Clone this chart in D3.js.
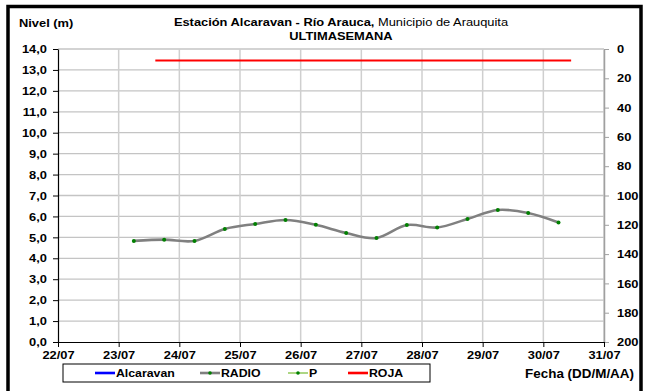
<!DOCTYPE html>
<html><head><meta charset="utf-8">
<script src="https://cdn.jsdelivr.net/npm/d3@7"></script>
<style>body{margin:0;background:#fff}svg{display:block}text{font-family:"Liberation Sans",Arial,sans-serif}</style>
</head><body><svg id="c" width="648" height="391"></svg>
<script>
// ---- data ----
const radioDates = ["2013-07-23T06:00","2013-07-23T18:00","2013-07-24T06:00","2013-07-24T18:00","2013-07-25T06:00","2013-07-25T18:00","2013-07-26T06:00","2013-07-26T18:00","2013-07-27T06:00","2013-07-27T18:00","2013-07-28T06:00","2013-07-28T18:00","2013-07-29T06:00","2013-07-29T18:00","2013-07-30T06:00"];
const radioValues = [4.83,4.89,4.83,5.40,5.64,5.83,5.60,5.21,4.97,5.59,5.47,5.88,6.31,6.16,5.71];
const rojaDates = ["2013-07-23T14:30","2013-07-30T11:00"];
const rojaValues = [13.45,13.45];
const xDomain = ["2013-07-22T00:00","2013-07-31T00:00"];
const leftTicks = [0,1,2,3,4,5,6,7,8,9,10,11,12,13,14];
const rightTicks = [0,20,40,60,80,100,120,140,160,180,200];
const legendItems = ["Alcaravan","RADIO","P","ROJA"];
const legendColors = ["#0000ff","#808080","#99cc66","#ff0000"];

const svg = d3.select("#c");
const parse = d3.timeParse("%Y-%m-%dT%H:%M");
const L = 58, R = 604, T = 49, B = 342;
const SX = 1.12;
function stretch(sel){
  sel.each(function(){
    const t = d3.select(this);
    const x = +(t.attr("x")||0);
    t.attr("transform", `translate(${x*(1-SX)},0) scale(${SX},1)`);
  });
}
const loc = d3.formatLocale({decimal:",",thousands:".",grouping:[3],currency:["$",""]});
const fmt1 = loc.format(".1f");

const x = d3.scaleTime().domain(xDomain.map(parse)).range([L,R]);
const y = d3.scaleLinear().domain([0,14]).range([B,T]);
const y2 = d3.scaleLinear().domain([0,200]).range([T,B]);

svg.append("rect").attr("width",648).attr("height",391).attr("fill","#fff");

// gridlines
const dayTicks = d3.timeDay.range(parse(xDomain[0]), d3.timeDay.offset(parse(xDomain[1]),1));
svg.append("g").selectAll("line").data(leftTicks.slice(1)).join("line")
  .attr("x1",L).attr("x2",R).attr("y1",d=>y(d)).attr("y2",d=>y(d))
  .attr("stroke","#c4c4c4").attr("stroke-width",1.3);
svg.append("g").selectAll("line").data(dayTicks.slice(1)).join("line")
  .attr("x1",d=>x(d)).attr("x2",d=>x(d)).attr("y1",T).attr("y2",B)
  .attr("stroke","#cfcfcf").attr("stroke-width",1.5);

// right axis
const ra = svg.append("g").attr("transform",`translate(${R},0)`)
  .call(d3.axisRight(y2).tickValues(rightTicks).tickSize(5).tickPadding(8).tickSizeOuter(0));
ra.select(".domain").attr("stroke","#a0a0a0").attr("stroke-width",1.5);
ra.selectAll(".tick line").attr("stroke","#a0a0a0");
ra.selectAll("text").attr("font-size",11.5).attr("font-weight","bold").attr("fill","#000").attr("font-family",null).call(stretch);

// left axis
const la = svg.append("g").attr("transform",`translate(${L},0)`)
  .call(d3.axisLeft(y).tickValues(leftTicks).tickFormat(fmt1).tickSize(5).tickPadding(6).tickSizeOuter(0));
la.select(".domain").attr("stroke","#000").attr("stroke-width",1.2);
la.selectAll("text").attr("font-size",11.5).attr("font-weight","bold").attr("font-family",null).call(stretch);

// bottom axis
const ba = svg.append("g").attr("transform",`translate(0,${B})`)
  .call(d3.axisBottom(x).tickValues(dayTicks).tickFormat(d3.timeFormat("%d/%m")).tickSize(5).tickPadding(4).tickSizeOuter(0));
ba.select(".domain").attr("stroke","#000").attr("stroke-width",1.2);
ba.selectAll("text").attr("font-size",11.5).attr("font-weight","bold").attr("font-family",null).call(stretch);

// ROJA
svg.append("path").datum(rojaDates.map((d,i)=>[parse(d),rojaValues[i]]))
  .attr("d",d3.line().x(d=>x(d[0])).y(d=>y(d[1])))
  .attr("stroke","#ff0000").attr("stroke-width",2.2).attr("fill","none");

// RADIO
const radio = radioDates.map((d,i)=>[parse(d),radioValues[i]]);
svg.append("path").datum(radio)
  .attr("d",d3.line().x(d=>x(d[0])).y(d=>y(d[1])).curve(d3.curveCatmullRom.alpha(0)))
  .attr("stroke","#808080").attr("stroke-width",2.6).attr("fill","none");
svg.append("g").selectAll("circle").data(radio).join("circle")
  .attr("cx",d=>x(d[0])).attr("cy",d=>y(d[1])).attr("r",2).attr("fill","#008000");

// titles
const t1 = svg.append("text").attr("x",341).attr("y",26).attr("text-anchor","middle").attr("font-size",11.5);
t1.append("tspan").attr("font-weight","bold").text("Estación Alcaravan - Río Arauca,");
t1.append("tspan").text(" Municipio de Arauquita");
t1.call(stretch);
svg.append("text").attr("x",341).attr("y",40).attr("text-anchor","middle").attr("font-size",11.5).attr("font-weight","bold").text("ULTIMASEMANA").call(stretch);
svg.append("text").attr("x",19).attr("y",27).attr("font-size",11.5).attr("font-weight","bold").text("Nivel (m)").call(stretch);
svg.append("text").attr("x",634).attr("y",378).attr("text-anchor","end").attr("font-size",12).attr("font-weight","bold").text("Fecha (DD/M/AA)").call(stretch);

// legend
svg.append("rect").attr("x",63).attr("y",364).attr("width",367).attr("height",18).attr("fill","#fff").attr("stroke","#000").attr("stroke-width",1);
const lx = [95,200,288,348];
const lg = svg.append("g").selectAll("g").data(legendItems).join("g").attr("transform",(d,i)=>`translate(${lx[i]},373)`);
lg.append("line").attr("x1",0).attr("x2",20).attr("stroke",(d,i)=>legendColors[i]).attr("stroke-width",(d,i)=>i===2?1.6:2.6);
lg.filter((d,i)=>i===1||i===2).append("circle").attr("cx",10).attr("r",1.8).attr("fill","#008000");
lg.append("text").attr("x",21).attr("y",4).attr("font-size",11).attr("font-weight","bold").text(d=>d).call(stretch);

// outer border
svg.append("rect").attr("x",8).attr("y",6.5).attr("width",633).attr("height",400).attr("fill","none").attr("stroke","#000").attr("stroke-width",3.5);
</script></body></html>
